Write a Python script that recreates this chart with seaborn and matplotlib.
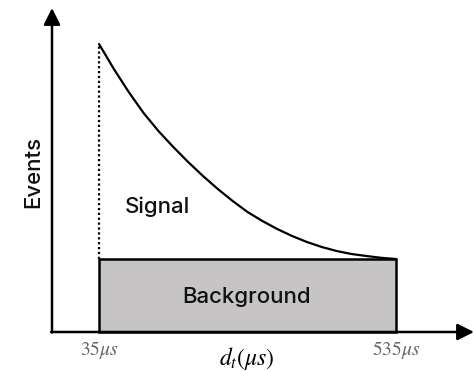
import matplotlib
matplotlib.use("Agg")
import matplotlib.pyplot as plt
import seaborn as sns
import pandas as pd

# ---- data ----
time_us = [35, 60, 85, 110, 135, 160, 185, 210, 235, 260, 285, 310, 335,
           360, 385, 410, 435, 460, 485, 510, 535]
events = [288, 263, 240, 219, 201, 185, 170, 156, 143, 131, 120, 111, 103,
          96, 90, 85, 81, 78, 76, 74.2, 73]
bg_start, bg_end, bg_level = 35, 535, 73
tick_labels = [r"$35\mu s$", r"$535\mu s$"]
tick_pos = [35, 535]

sns.set_theme(style="white")
plt.rcParams["font.family"] = ["Inter", "DejaVu Sans"]
plt.rcParams["mathtext.fontset"] = "stix"

fig = plt.figure(figsize=(4.74, 3.71), dpi=100)
ax = fig.add_axes([0, 0, 1, 1])
X0, PXS = -131.7, 0.594
ax.set_xlim(X0, X0 + 474 / PXS)
ax.set_ylim(-39, 332)
ax.axis("off")


def px(x):
    return X0 + x / PXS


# background box
ax.bar(bg_start, bg_level, width=bg_end - bg_start, align="edge",
       color="#c6c4c5", edgecolor="black", linewidth=1.8, zorder=2)

# signal curve
df = pd.DataFrame({"t": time_us, "ev": events})
sns.lineplot(data=df, x="t", y="ev", ax=ax, color="black", linewidth=1.6,
             zorder=3)

# dotted line at start
ax.plot([bg_start, bg_start], [bg_level, events[0]], color="black",
        linewidth=1.6, linestyle=(0, (1, 1.2)), dash_capstyle="butt",
        zorder=3)

# axes with arrows
x0 = px(52)
arrow = dict(arrowstyle="-|>", lw=1.8, color="black", mutation_scale=25,
             shrinkA=0, shrinkB=0)
ax.annotate("", xy=(x0, 324), xytext=(x0, -0.5), arrowprops=arrow)
ax.annotate("", xy=(px(474), 0), xytext=(x0 - 1.5, 0), arrowprops=arrow)

# texts
tkw = dict(fontsize=16, fontweight="medium", ha="center", va="center",
           color="#111111")
ax.text(px(157), 332 - 207, "Signal", **tkw)
ax.text(px(247), 332 - 297, "Background", **tkw)
ax.text(px(33), 332 - 172, "Events", rotation=90, **tkw)
for p, lab in zip(tick_pos, tick_labels):
    ax.text(p, 332 - 350, lab, fontsize=14, ha="center", va="center",
            color="#666666")
ax.text(px(247), 332 - 358, r"$d_t(\mu s)$", fontsize=17, ha="center",
        va="center", color="black")

fig.savefig("out.png", dpi=100)
